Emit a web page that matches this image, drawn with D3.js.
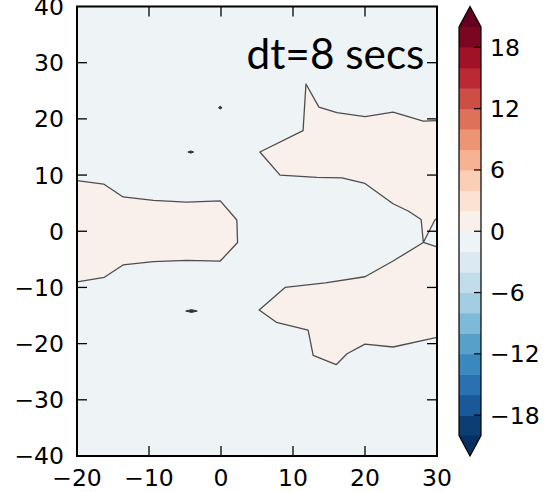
<!DOCTYPE html>
<html>
<head>
<meta charset="utf-8">
<script src="https://cdn.jsdelivr.net/npm/d3@7"></script>
<style>
  html, body { margin: 0; padding: 0; background: #ffffff; }
  svg { display: block; }
</style>
</head>
<body>
<svg id="chart" width="551" height="492"></svg>
<script>
// ---- data -------------------------------------------------------------
const xTicks = [-20, -10, 0, 10, 20, 30];
const yTicks = [-40, -30, -20, -10, 0, 10, 20, 30, 40];
const levels = d3.range(-20, 21, 2);            // contour levels
const cbarTicks = [-18, -12, -6, 0, 6, 12, 18];
const title = "dt=8 secs";

// RdBu_r colormap anchor colours (low -> high)
const rdbuR = ["#053061", "#2166ac", "#4393c3", "#92c5de", "#d1e5f0", "#f7f7f7",
               "#fddbc7", "#f4a582", "#d6604d", "#b2182b", "#67001f"];

// zero-level contour lines (x, y in data units) enclosing the 0..2 band
const leftRegion = [[-20, 9.0], [-16.3, 8.4], [-13.6, 6.1], [-9.4, 5.5], [-4.8, 5.2],
  [-0.1, 5.4], [2.2, 2.0], [2.3, -2.0], [-0.1, -5.3], [-4.8, -5.2], [-9.4, -5.4],
  [-13.6, -6.0], [-16.2, -8.2], [-20, -9.0]];
const upperRegion = [[30, 19.7], [28.1, 19.6], [23.9, 21.2], [20.0, 20.4], [16.1, 21.1],
  [13.6, 22.1], [11.8, 26.2], [11.4, 17.9], [5.4, 14.1], [8.2, 10.0], [13.3, 9.6],
  [16.8, 9.5], [20.0, 8.5], [23.9, 4.9], [26.0, 3.6], [27.8, 2.1], [28.1, -2.0],
  [29.7, 2.0], [30, 2.3]];
const lowerRegion = [[30, -2.8], [28.1, -2.0], [23.9, -5.3], [20.0, -8.1], [14.5, -9.2],
  [8.9, -10.0], [5.3, -14.0], [7.7, -16.2], [12.1, -17.6], [12.8, -22.1], [16.0, -23.75],
  [17.5, -21.8], [20.0, -20.1], [23.9, -20.6], [30, -18.9]];
const islands = [
  [[-0.35, 22.0], [-0.1, 22.25], [0.15, 22.0], [-0.1, 21.75]],
  [[-4.6, 14.1], [-4.2, 14.3], [-3.8, 14.1], [-4.2, 13.9]],
  [[-4.9, -14.2], [-4.1, -13.95], [-3.3, -14.2], [-4.1, -14.45]]
];

// ---- layout -----------------------------------------------------------
const svg = d3.select("#chart");
const plot = { left: 77, right: 437, top: 6.5, bottom: 456 };
const cbar = { left: 459, right: 481, top: 6.5, bottom: 456 };
const tickFont = "'DejaVu Sans', sans-serif";
const tickSize = 23.5;

const x = d3.scaleLinear().domain([-20, 30]).range([plot.left, plot.right]);
const y = d3.scaleLinear().domain([-40, 40]).range([plot.bottom, plot.top]);

const norm = d3.scaleLinear().domain([levels[0], levels[levels.length - 1]]).range([0, 1]);
const cmap = d3.scaleLinear()
  .domain(d3.range(rdbuR.length).map(i => i / (rdbuR.length - 1)))
  .range(rdbuR)
  .interpolate(d3.interpolateRgb);
const bandColor = lo => cmap(norm(lo + 1));   // colour of band [lo, lo+2]

const line = d3.line().x(d => x(d[0])).y(d => y(d[1]));

// ---- contour field ----------------------------------------------------
svg.append("defs").append("clipPath").attr("id", "plotClip")
  .append("rect")
  .attr("x", plot.left).attr("y", plot.top)
  .attr("width", plot.right - plot.left).attr("height", plot.bottom - plot.top);

const field = svg.append("g").attr("clip-path", "url(#plotClip)");

field.append("rect")
  .attr("x", plot.left).attr("y", plot.top)
  .attr("width", plot.right - plot.left).attr("height", plot.bottom - plot.top)
  .attr("fill", bandColor(-2));

[leftRegion, upperRegion, lowerRegion].forEach(poly => {
  field.append("path")
    .attr("d", line(poly) + "Z")
    .attr("fill", bandColor(0));
  field.append("path")
    .attr("d", line(poly))
    .attr("fill", "none")
    .attr("stroke", "#4d4d4d")
    .attr("stroke-width", 1.3)
    .attr("stroke-linejoin", "round");
});

islands.forEach(poly => {
  field.append("path")
    .attr("d", line(poly) + "Z")
    .attr("fill", "#333")
    .attr("stroke", "#333")
    .attr("stroke-width", 1);
});

// ---- axes frame and ticks --------------------------------------------
const axes = svg.append("g");
axes.append("rect")
  .attr("x", plot.left).attr("y", plot.top)
  .attr("width", plot.right - plot.left).attr("height", plot.bottom - plot.top)
  .attr("fill", "none").attr("stroke", "#000").attr("stroke-width", 2);

const tickLen = 10;
xTicks.slice(1, -1).forEach(v => {
  axes.append("line").attr("x1", x(v)).attr("x2", x(v))
    .attr("y1", plot.bottom).attr("y2", plot.bottom - tickLen)
    .attr("stroke", "#000").attr("stroke-width", 1.3);
  axes.append("line").attr("x1", x(v)).attr("x2", x(v))
    .attr("y1", plot.top).attr("y2", plot.top + tickLen)
    .attr("stroke", "#000").attr("stroke-width", 1.3);
});
yTicks.slice(1, -1).forEach(v => {
  axes.append("line").attr("x1", plot.left).attr("x2", plot.left + tickLen)
    .attr("y1", y(v)).attr("y2", y(v))
    .attr("stroke", "#000").attr("stroke-width", 1.3);
  axes.append("line").attr("x1", plot.right).attr("x2", plot.right - tickLen)
    .attr("y1", y(v)).attr("y2", y(v))
    .attr("stroke", "#000").attr("stroke-width", 1.3);
});

const fmt = v => (v < 0 ? "\u2212" + Math.abs(v) : String(v));

axes.selectAll("text.xt").data(xTicks).join("text")
  .attr("class", "xt")
  .attr("x", d => x(d)).attr("y", 486)
  .attr("text-anchor", "middle")
  .attr("font-family", tickFont).attr("font-size", tickSize)
  .attr("fill", "#000")
  .text(fmt);

axes.selectAll("text.yt").data(yTicks).join("text")
  .attr("class", "yt")
  .attr("x", 64).attr("y", d => y(d))
  .attr("dy", "0.36em")
  .attr("text-anchor", "end")
  .attr("font-family", tickFont).attr("font-size", tickSize)
  .attr("fill", "#000")
  .text(fmt);

// ---- annotation -------------------------------------------------------
const label = svg.append("text")
  .attr("x", 246.5).attr("y", 69)
  .attr("font-family", "Lato, 'Open Sans', sans-serif")
  .attr("font-size", 40)
  .attr("fill", "#000")
  .text(title);
const w = label.node().getComputedTextLength();
label.attr("font-size", 40 * 178 / w);

// ---- colorbar ---------------------------------------------------------
const extLen = (cbar.bottom - cbar.top) / 1.1 * 0.05;
const cy = d3.scaleLinear()
  .domain([levels[0], levels[levels.length - 1]])
  .range([cbar.bottom - extLen, cbar.top + extLen]);
const cmid = (cbar.left + cbar.right) / 2;

const cb = svg.append("g");
cb.selectAll("rect.band").data(levels.slice(0, -1)).join("rect")
  .attr("class", "band")
  .attr("x", cbar.left).attr("width", cbar.right - cbar.left)
  .attr("y", d => cy(d + 2)).attr("height", d => cy(d) - cy(d + 2) + 0.5)
  .attr("fill", d => bandColor(d));

cb.append("path")
  .attr("d", `M${cbar.left},${cy(levels[levels.length - 1])}L${cmid},${cbar.top}L${cbar.right},${cy(levels[levels.length - 1])}Z`)
  .attr("fill", cmap(1));
cb.append("path")
  .attr("d", `M${cbar.left},${cy(levels[0])}L${cmid},${cbar.bottom}L${cbar.right},${cy(levels[0])}Z`)
  .attr("fill", cmap(0));

cb.append("path")
  .attr("d", `M${cbar.left},${cy(levels[0])}L${cbar.left},${cy(levels[levels.length - 1])}` +
             `L${cmid},${cbar.top}L${cbar.right},${cy(levels[levels.length - 1])}` +
             `L${cbar.right},${cy(levels[0])}L${cmid},${cbar.bottom}Z`)
  .attr("fill", "none").attr("stroke", "#000").attr("stroke-width", 1.2);

cbarTicks.forEach(v => {
  cb.append("line")
    .attr("x1", cbar.right).attr("x2", cbar.right - 7)
    .attr("y1", cy(v)).attr("y2", cy(v))
    .attr("stroke", "#000").attr("stroke-width", 1.2);
});

cb.selectAll("text.ct").data(cbarTicks).join("text")
  .attr("class", "ct")
  .attr("x", 490).attr("y", d => cy(d))
  .attr("dy", "0.36em")
  .attr("font-family", tickFont).attr("font-size", tickSize)
  .attr("fill", "#000")
  .text(fmt);
</script>
</body>
</html>
